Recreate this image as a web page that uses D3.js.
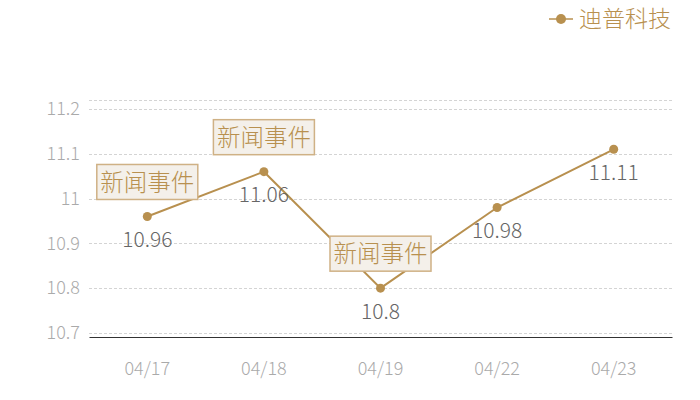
<!DOCTYPE html>
<html>
<head>
<meta charset="utf-8">
<script src="https://cdn.jsdelivr.net/npm/d3@7"></script>
<style>
  body { margin: 0; background: #fff; }
  text { font-family: "Noto Sans CJK SC", "Noto Sans", sans-serif; font-weight: 300; }
</style>
</head>
<body>
<script>
const w = 700
const h = 400

// Chart data
const dates = ["04/17", "04/18", "04/19", "04/22", "04/23"]
const prices = [10.96, 11.06, 10.8, 10.98, 11.11]
const yTicks = [10.7, 10.8, 10.9, 11, 11.1, 11.2]
const eventDates = ["04/17", "04/18", "04/19"]
const seriesName = "迪普科技"

const gold = "#b8904f"
const margin = {top: 100, right: 28, bottom: 63, left: 89}

const svg = d3.select("body")
              .append("svg")
              .attr("width", w)
              .attr("height", h)

const x = d3.scaleBand()
            .domain(dates)
            .range([margin.left, w - margin.right])

const y = d3.scaleLinear()
            .domain([10.691, 11.22])
            .range([h - margin.bottom, margin.top])

// Grid lines
svg.append("g")
   .selectAll("line")
   .data(yTicks.concat([11.22]))
   .enter()
   .append("line")
   .attr("x1", margin.left)
   .attr("x2", w - margin.right)
   .attr("y1", d => Math.round(y(d)) + 0.5)
   .attr("y2", d => Math.round(y(d)) + 0.5)
   .attr("stroke", "#d4d4d4")
   .attr("stroke-dasharray", "3,2")

// Y axis labels
svg.append("g")
   .selectAll("text")
   .data(yTicks)
   .enter()
   .append("text")
   .attr("x", margin.left - 9)
   .attr("y", d => y(d))
   .attr("dy", "0.35em")
   .attr("text-anchor", "end")
   .attr("fill", "#aaaaaa")
   .attr("font-size", 18)
   .text(d => d)

// X axis
const xAxis = svg.append("g")
                 .attr("transform", `translate(0, ${h - margin.bottom})`)
                 .call(d3.axisBottom(x).tickSize(0).tickPadding(25))
xAxis.select(".domain").attr("stroke", "#333").attr("stroke-width", 1.2)
xAxis.selectAll("text")
     .attr("fill", "#aaaaaa")
     .attr("font-size", 18)
     .attr("font-family", "'Noto Sans CJK SC', sans-serif")
     .attr("font-weight", 300)

const cx = d => x(d) + x.bandwidth() / 2

// Price line
const line = d3.line()
               .x((d, i) => cx(dates[i]))
               .y(d => y(d))

svg.append("path")
   .datum(prices)
   .attr("d", line)
   .attr("fill", "none")
   .attr("stroke", gold)
   .attr("stroke-width", 2)

svg.append("g")
   .selectAll("circle")
   .data(prices)
   .enter()
   .append("circle")
   .attr("cx", (d, i) => cx(dates[i]))
   .attr("cy", d => y(d))
   .attr("r", 4.5)
   .attr("fill", gold)

// Value labels
svg.append("g")
   .selectAll("text")
   .data(prices)
   .enter()
   .append("text")
   .attr("x", (d, i) => cx(dates[i]))
   .attr("y", d => y(d) + 23)
   .attr("dy", "0.35em")
   .attr("text-anchor", "middle")
   .attr("fill", "#666")
   .attr("font-size", 21)
   .text(d => d)

// Event boxes
const events = svg.append("g")
                  .selectAll("g")
                  .data(eventDates)
                  .enter()
                  .append("g")
                  .attr("transform", d => {
                    const i = dates.indexOf(d)
                    return `translate(${cx(d)}, ${y(prices[i]) - 17})`
                  })

events.append("rect")
      .attr("x", -50.5)
      .attr("y", -35)
      .attr("width", 101)
      .attr("height", 35)
      .attr("fill", "#f4f0ea")
      .attr("stroke", "#cfb185")
      .attr("stroke-width", 1.5)

events.append("text")
      .attr("x", 0)
      .attr("y", -17)
      .attr("dy", "0.35em")
      .attr("text-anchor", "middle")
      .attr("fill", "#b8904f")
      .attr("font-size", 23.5)
      .text("新闻事件")

// Legend
const legend = svg.append("g")
                  .attr("transform", "translate(561, 19)")

legend.append("line")
      .attr("x1", -12)
      .attr("x2", 12)
      .attr("stroke", gold)
      .attr("stroke-width", 1.5)

legend.append("circle")
      .attr("r", 5)
      .attr("fill", gold)

legend.append("text")
      .attr("x", 18)
      .attr("dy", "0.35em")
      .attr("fill", gold)
      .attr("font-size", 23)
      .text(seriesName)
</script>
</body>
</html>
